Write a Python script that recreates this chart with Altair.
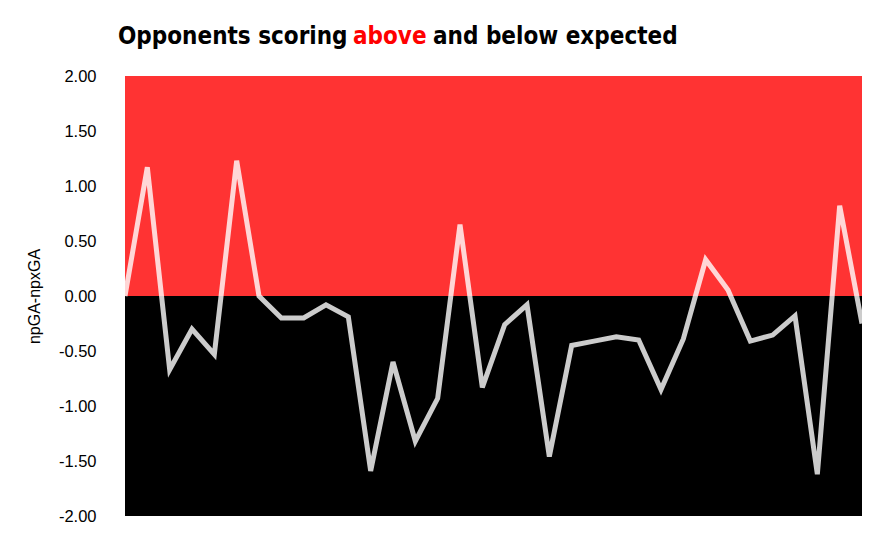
import altair as alt
import pandas as pd

values = [0.00, 1.17, -0.67, -0.30, -0.53, 1.23, 0.00, -0.20, -0.20, -0.08,
          -0.19, -1.59, -0.60, -1.32, -0.93, 0.65, -0.83, -0.26, -0.08, -1.46,
          -0.45, -0.41, -0.37, -0.40, -0.85, -0.39, 0.33, 0.055, -0.41, -0.355,
          -0.18, -1.62, 0.82, -0.25]
idx = list(range(len(values)))

band_lo = [0, -2]
band_hi = [2, 0]
band_color = ["#FF3333", "#000000"]

title_parts = ["Opponents scoring", "above", "and below expected"]
title_colors = ["#000000", "#FF0000", "#000000"]
title_x = [-7, 228, 308]

W, H = 737, 440

df = pd.DataFrame({"i": idx, "v": values})
bands = pd.DataFrame({"lo": band_lo, "hi": band_hi, "c": band_color,
                      "x0": [0, 0], "x1": [len(values) - 1] * 2})
tdf = pd.DataFrame({"t": title_parts, "c": title_colors, "px": title_x})

xs = alt.Scale(domain=[0, len(values) - 1], nice=False, zero=False)
ys = alt.Scale(domain=[-2, 2], nice=False)

rects = alt.Chart(bands).mark_rect().encode(
    x=alt.X("x0:Q", scale=xs, axis=None),
    x2="x1:Q",
    y=alt.Y("lo:Q", scale=ys,
            axis=alt.Axis(title="npGA-npxGA", values=[-2, -1.5, -1, -0.5, 0, 0.5, 1, 1.5, 2],
                          labelExpr="datum.value < 0 ? '-' + format(abs(datum.value), '.2f') : format(datum.value, '.2f')",
                          ticks=False, domain=False, grid=False, labelPadding=29,
                          labelFont="Liberation Sans", labelFontSize=16.5, labelColor="#000000",
                          titleFont="Liberation Sans", titleFontSize=16, titleFontWeight="normal",
                          titleColor="#000000", titlePadding=16)),
    y2="hi:Q",
    color=alt.Color("c:N", scale=None),
)

line = alt.Chart(df).mark_line(color="#FFFFFF", opacity=0.8, strokeWidth=5).encode(
    x=alt.X("i:Q", scale=xs),
    y=alt.Y("v:Q", scale=ys),
)

title = alt.Chart(tdf).mark_text(
    align="left", baseline="alphabetic", font="DejaVu Sans Condensed, sans-serif",
    fontSize=24, fontWeight="bold"
).encode(
    x=alt.X("px:Q", scale=None),
    y=alt.value(-32),
    text="t:N",
    color=alt.Color("c:N", scale=None),
)

chart = alt.layer(rects, line, title).properties(
    width=W, height=H,
    autosize=alt.AutoSizeParams(type="none"),
    padding={"left": 117, "top": 68, "right": 20, "bottom": 16},
).configure_view(stroke=None)

chart.save("out.html", embed_options={"renderer": "svg", "actions": False})
